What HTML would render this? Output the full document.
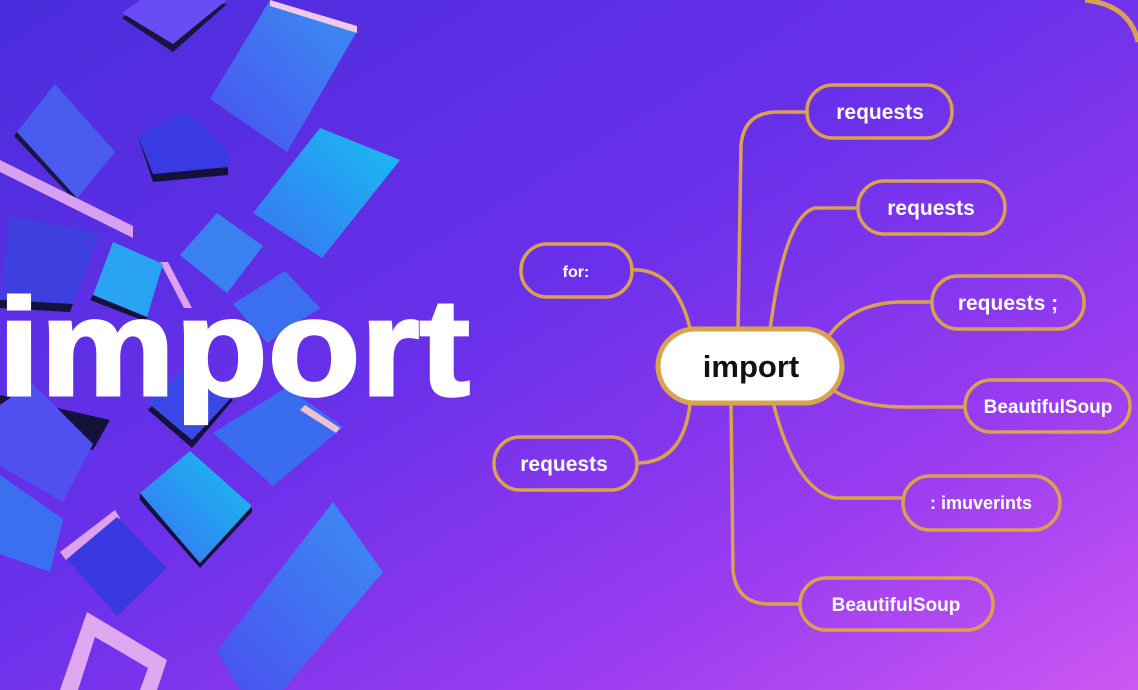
<!DOCTYPE html>
<html><head><meta charset="utf-8"><style>
html,body{margin:0;padding:0;width:1138px;height:690px;overflow:hidden}
svg{display:block}
text{font-family:"Liberation Sans",sans-serif;font-weight:bold}
</style></head><body>
<svg width="1138" height="690" viewBox="0 0 1138 690" xmlns="http://www.w3.org/2000/svg">
<defs>
<linearGradient id="bg" x1="0" y1="0" x2="1" y2="1">
<stop offset="0" stop-color="#4a2ddc"/>
<stop offset="0.45" stop-color="#6a30ea"/>
<stop offset="0.75" stop-color="#9a3cf0"/>
<stop offset="1" stop-color="#cc58f2"/>
</linearGradient>
<linearGradient id="cy" x1="0" y1="1" x2="1" y2="0">
<stop offset="0" stop-color="#3a70f0"/><stop offset="1" stop-color="#18c0f4"/>
</linearGradient>
<linearGradient id="bl" x1="0" y1="1" x2="1" y2="0">
<stop offset="0" stop-color="#4a50f0"/><stop offset="1" stop-color="#3a90f2"/>
</linearGradient>
</defs>
<rect width="1138" height="690" fill="url(#bg)"/>
<path d="M1085,0 Q1130,5 1138,42" fill="none" stroke="#d9a24e" stroke-width="5"/>

<g>
<polygon points="122,18 173,52 227,4 140,4" fill="#1a1440"/>
<polygon points="122,13 173,44 227,0 140,0" fill="#6a4cf5"/>
<polygon points="270,0 357,31 287,152 210,99" fill="url(#bl)"/>
<polygon points="270,0 357,26 357,33 270,6" fill="#f0c8e8"/>
<polygon points="14,136 77,203 77,198 17,132" fill="#1a1440"/>
<polygon points="17,132 55,84 115,152 77,198" fill="#4a5cf0"/>
<polygon points="137,134 153,182 228,175 228,167 153,174" fill="#14123a"/>
<polygon points="137,134 187,112 230,152 228,167 153,174" fill="#3a3ae2"/>
<polygon points="0,160 133,226 133,238 0,172" fill="#d8a0f0"/>
<polygon points="253,213 320,128 400,160 322,258" fill="url(#cy)"/>
<polygon points="10,216 100,233 73,304 0,300" fill="#3f3fe0"/>
<polygon points="0,300 73,304 70,312 0,308" fill="#14123a"/>
<polygon points="180,255 217,213 263,246 227,293" fill="#3a80f0"/>
<polygon points="160,262 168,262 192,308 184,308" fill="#e0a0f0"/>
<polygon points="93,295 113,242 163,264 147,317" fill="#2aa4f2"/>
<polygon points="90,300 147,322 147,317 93,295" fill="#14123a"/>
<polygon points="233,304 285,271 320,308 267,343" fill="#3a70f0"/>
<polygon points="0,395 110,420 93,450 0,425" fill="#14123a"/>
<polygon points="0,405 32,383 93,444 63,502 0,466" fill="#5050f0"/>
<polygon points="148,410 192,448 233,400 187,370" fill="#14123a"/>
<polygon points="148,403 187,365 233,396 192,440" fill="#3a48e6"/>
<polygon points="213,433 287,387 343,427 273,486" fill="#3a6cf0"/>
<polygon points="305,405 340,428 336,433 300,410" fill="#f0c0d0"/>
<polygon points="0,475 63,519 50,572 0,554" fill="#3a70f0"/>
<polygon points="140,500 200,568 252,512 252,506 200,563 140,493" fill="#14123a"/>
<polygon points="140,493 190,451 252,506 200,563" fill="url(#cy)"/>
<polygon points="60,552 115,510 120,518 66,560" fill="#e0a0f0"/>
<polygon points="67,559 117,517 167,568 117,616" fill="#3a38e0"/>
<polygon points="217,651 333,502 383,572 283,690 240,690" fill="url(#bl)"/>
<polygon points="60,690 87,612 167,660 157,690 140,690 148,668 95,637 78,690" fill="#e0a8f0"/>
</g>

<text x="-2" y="395" font-size="138" fill="#ffffff" stroke="#ffffff" stroke-width="3" textLength="472" lengthAdjust="spacingAndGlyphs">import</text>

<g fill="none" stroke="#d9a24e" stroke-width="3.5" stroke-linecap="round">
<path d="M738,330 L741,145 Q744,112 778,112 L807,112"/>
<path d="M770,330 Q785,215 815,208 L858,208"/>
<path d="M826,340 Q850,303 900,302 L932,302"/>
<path d="M836,392 Q862,407 905,407 L965,407"/>
<path d="M773,402 Q795,490 835,498 L903,498"/>
<path d="M731,402 L733,570 Q736,604 770,604 L800,604"/>
<path d="M632,270 Q675,268 690,328"/>
<path d="M637,463 Q683,463 690,404"/>
</g>

<g fill="none" stroke="#d9a24e" stroke-width="3.5">
<rect x="807" y="85" width="145" height="53" rx="26"/>
<rect x="858" y="181" width="147" height="53" rx="26"/>
<rect x="932" y="276" width="152" height="53" rx="26"/>
<rect x="965" y="380" width="165" height="52" rx="26"/>
<rect x="903" y="476" width="157" height="54" rx="27"/>
<rect x="800" y="578" width="193" height="52" rx="26"/>
<rect x="521" y="244" width="111" height="53" rx="26"/>
<rect x="494" y="437" width="143" height="53" rx="26"/>
</g>
<rect x="658" y="329" width="184" height="74" rx="37" fill="#ffffff" stroke="#d9a24e" stroke-width="5"/>

<g fill="#ffffff" font-size="21" text-anchor="middle">
<text x="880" y="119">requests</text>
<text x="931" y="215">requests</text>
<text x="1008" y="310">requests ;</text>
<text x="1048" y="413" font-size="19">BeautifulSoup</text>
<text x="981" y="509" font-size="18">: imuverints</text>
<text x="896" y="611" font-size="19">BeautifulSoup</text>
<text x="576" y="277" font-size="16">for:</text>
<text x="564" y="471">requests</text>
</g>
<text x="751" y="377" font-size="31" fill="#111" text-anchor="middle">import</text>
</svg>
</body></html>
